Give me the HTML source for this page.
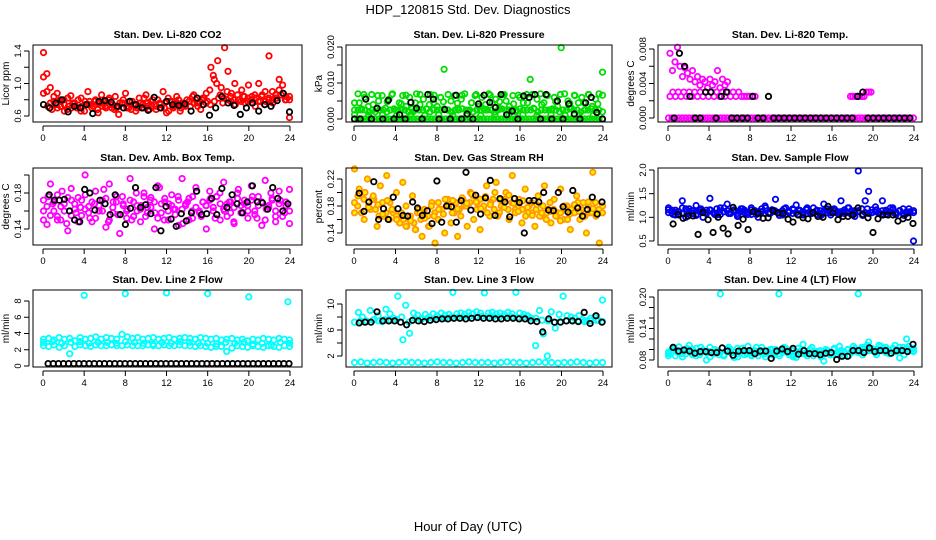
<!DOCTYPE html>
<html><head><meta charset="utf-8"><style>
html,body{margin:0;padding:0;background:#fff;}
svg{display:block;font-family:"Liberation Sans",sans-serif;}
</style></head><body>
<svg id="chart" width="936" height="540" viewBox="0 0 936 540" xmlns="http://www.w3.org/2000/svg">
<text x="468" y="14" text-anchor="middle" font-size="13">HDP_120815  Std. Dev. Diagnostics</text>
<text x="468" y="531" text-anchor="middle" font-size="13">Hour of Day (UTC)</text>
</svg>
<script>
const xTicks=[0,4,8,12,16,20,24];
// Panel 1 CO2
const co2Red=[1.38,1.12,0.95,0.78,0.88,0.72,0.80,0.68,0.85,0.75,0.70,0.82,0.66,0.90,0.74,0.78,0.64,0.86,0.72,0.80,0.70,0.84,0.62,0.76,0.88,0.70,0.78,0.66,0.82,0.74,0.86,0.68,0.80,0.72,0.76,0.90,0.64,0.78,0.70,0.84,0.66,0.74,0.80,0.72,0.86,0.76,0.68,0.82,0.78,1.20,1.05,1.28,0.95,1.44,1.15,0.88,1.00,0.80,0.92,0.76,0.98,0.84,0.72,1.00,0.86,0.78,1.34,0.90,0.82,1.05,0.88,0.80,0.58];
const co2Red2=[1.08,0.90,0.76,0.84,0.70,0.78,0.74,0.82,0.70,0.76,0.80,0.72,0.78,0.74,0.70,0.80,0.76,0.72,0.78,0.82,0.74,0.70,0.76,0.80,0.72,0.78,0.74,0.70,0.76,0.82,0.72,0.78,0.74,0.80,0.70,0.76,0.82,0.78,0.74,0.80,0.76,0.72,0.78,0.84,0.80,0.76,0.82,0.88,0.92,1.10,1.00,0.86,0.82,0.90,0.84,0.80,0.86,0.78,0.84,0.82,0.80,0.86,0.78,0.84,0.90,0.82,0.80,0.86,0.92,0.98,0.84,0.80];
const co2Red3=[0.88,0.72,0.68,0.74,0.80,0.66,0.72,0.76,0.70,0.66,0.74,0.78,0.72,0.68,0.76,0.70,0.74,0.68,0.72,0.76,0.70,0.68,0.74,0.72,0.70,0.76,0.72,0.68,0.74,0.70,0.66,0.72,0.76,0.70,0.74,0.78,0.76,0.72,0.80,0.76,0.74,0.78,0.82,0.76,0.80,0.78,0.74,0.80,0.84,0.78,0.76,0.82,0.78,0.74,0.80,0.76,0.82,0.86,0.80,0.84];
const co2Black=[0.74,0.70,0.76,0.80,0.65,0.72,0.70,0.74,0.63,0.78,0.79,0.77,0.72,0.70,0.78,0.74,0.70,0.67,0.83,0.70,0.78,0.74,0.73,0.75,0.66,0.82,0.74,0.61,0.70,0.84,0.76,0.73,0.62,0.70,0.76,0.66,0.74,0.72,0.79,0.88,0.65];
// Panel 2 Pressure
const presGreen=[0.0045,0.007,0.0025,0.006,0.0035,0.0068,0.002,0.005,0.0065,0.003,0.0055,0.007,0.0025,0.0045,0.0065,0.0035,0.006,0.002,0.007,0.004,0.0055,0.0028,0.0068,0.0045,0.0035,0.006,0.0138,0.0025,0.005,0.0065,0.003,0.0055,0.007,0.0022,0.0045,0.0065,0.0035,0.006,0.0025,0.007,0.0045,0.0055,0.003,0.0068,0.005,0.0035,0.0065,0.0025,0.006,0.0045,0.0068,0.011,0.003,0.0055,0.007,0.0045,0.0065,0.0025,0.006,0.0035,0.0198,0.007,0.005,0.003,0.0065,0.0045,0.006,0.0025,0.0068,0.0035,0.0055,0.007,0.013];
const presGreen0=[0,0,0,0,0,0,0,0,0,0,0,0,0,0,0,0,0,0,0,0,0,0,0,0,0,0,0,0,0,0,0,0,0,0,0,0,0,0,0,0,0,0,0,0,0,0,0,0,0,0,0,0,0,0,0,0,0,0,0,0,0,0,0,0,0,0,0,0,0,0,0,0];
const presGreen2=[0.0025,0.0025,0.0028,0.0025,0.002,0.0025,0.0028,0.0025,0.0025,0.002,0.0025,0.0028,0.0025,0.0025,0.0025,0.002,0.0028,0.0025,0.0025,0.0025,0.0028,0.002,0.0025,0.0025,0.0025,0.0028,0.0025,0.002,0.0025,0.0025,0.0028,0.0025,0.0025,0.002,0.0025,0.0025,0.0028,0.0025,0.0025,0.002,0.0025,0.0028,0.0025,0.0025,0.0025,0.002,0.0028,0.0025,0.0025,0.0025,0.0028,0.002,0.0025,0.0025,0.0025,0.0028,0.0025,0.002,0.0025,0.0025,0.0028,0.0025,0.0025,0.002,0.0025,0.0025,0.0028,0.0025,0.0025,0.002];
const presGreen3=[0.0012,0.0045,0.0068,0.001,0.004,0.0065,0.0012,0.0048,0.0068,0.001,0.0042,0.0066,0.0012,0.0045,0.0068,0.001,0.004,0.0066,0.0012,0.0048,0.0068,0.001,0.0044,0.0066,0.0012,0.0045,0.0068,0.001,0.004,0.0066,0.0012,0.0048,0.0068,0.001,0.0042,0.0066,0.0012,0.0045,0.0068,0.001,0.004,0.0066,0.0012,0.0048,0.0068,0.001,0.0044,0.0066,0.0012,0.0045,0.0068,0.001,0.0042,0.0066];
const presBlack=[0,0,0.0055,0,0.003,0,0.0052,0,0.0012,0,0.0046,0.003,0,0.0068,0.0055,0,0.0026,0,0.0066,0,0.0014,0,0.0042,0.0066,0.0046,0.0032,0.0068,0.0012,0.0022,0,0.0064,0.006,0.0068,0,0.0068,0,0.005,0,0.0042,0.0014,0,0.0045,0.006,0.0018,0];
// Panel 3 Temp
const tempMag0=[0,0,0,0,0,0,0,0,0,0,0,0,0,0,0,0,0,0,0,0,0,0,0,0,0,0,0,0,0,0,0,0,0,0,0,0,0,0,0,0,0,0,0,0,0,0,0,0,0,0,0,0,0,0,0,0,0,0,0,0,0,0,0,0,0,0,0,0,0,0,0,0];
const tempMagHi=[0.0075,0.0055,0.0065,0.0082,0.006,0.0048,0.0058,0.0052,0.0045,0.0055,0.0042,0.0048,0.0038,0.0045,0.0042,0.0035,0.0045,0.0038,0.0042,0.0055,0.0035,0.0045,0.0038,0.0042];
const tempMagBand=[0.0025,0.003,0.0025,0.003,0.0025,0.003,0.0025,0.003,0.0025,0.003,0.0025,0.003,0.0025,0.003,0.0025,0.003,0.0025,0.003,0.0025,0.003,0.0025,0.003,0.0025,0.003,0.0025,0.003,0.0025,0.0025,0.0025,0.0025,0.0025,0.0025];
const tempMagLate=[0.0025,0.0025,0.0025,0.0025,0.0025,0.0025,0.0025,0.003,0.003,0.003];
const tempBlack=[0,0.0075,0.006,0.0025,0,0,0.003,0.003,0,0.0025,0.003,0,0,0,0,0.0025,0,0,0.0025,0,0,0,0,0,0,0,0,0,0,0,0,0,0,0,0,0.0025,0.003,0,0,0,0,0,0,0,0,0];
// Panel 4 Amb box
const ambMag=[0.172,0.145,0.190,0.160,0.178,0.150,0.168,0.138,0.185,0.162,0.175,0.155,0.200,0.165,0.148,0.182,0.160,0.172,0.142,0.190,0.158,0.176,0.135,0.166,0.152,0.196,0.170,0.160,0.148,0.180,0.164,0.175,0.140,0.188,0.158,0.170,0.150,0.178,0.162,0.144,0.196,0.166,0.174,0.152,0.186,0.160,0.170,0.140,0.182,0.164,0.176,0.150,0.192,0.168,0.158,0.146,0.180,0.166,0.172,0.152,0.188,0.160,0.176,0.144,0.194,0.166,0.174,0.154,0.182,0.160,0.170,0.146];
const ambMag2=[0.160,0.165,0.155,0.170,0.150,0.165,0.160,0.175,0.155,0.168,0.148,0.172,0.162,0.158,0.170,0.152,0.166,0.160,0.174,0.150,0.164,0.170,0.156,0.168,0.160,0.172,0.154,0.166,0.162,0.176,0.158,0.164,0.170,0.152,0.168,0.174,0.160,0.166,0.156,0.172,0.162,0.168,0.150,0.176,0.164,0.158,0.170,0.166,0.172,0.160,0.176,0.168,0.162,0.154,0.170,0.164,0.174,0.158,0.168,0.160,0.172,0.156,0.166,0.170,0.150,0.164,0.172,0.160,0.168,0.154,0.166,0.160];
const ambMag3=[0.150,0.176,0.168,0.154,0.182,0.146,0.172,0.158,0.164,0.178,0.152,0.168,0.160,0.184,0.148,0.170,0.156,0.176,0.162,0.150,0.180,0.166,0.154,0.172,0.158,0.186,0.150,0.168,0.162,0.176,0.146,0.170,0.160,0.182,0.154,0.166,0.174,0.152,0.180,0.160,0.170,0.148,0.184,0.158,0.166,0.176,0.152,0.170,0.162,0.180,0.148,0.172,0.158,0.184];
const ambBlack=[0.178,0.172,0.172,0.173,0.160,0.150,0.148,0.184,0.180,0.161,0.172,0.168,0.156,0.178,0.156,0.145,0.163,0.186,0.164,0.167,0.157,0.186,0.138,0.165,0.151,0.143,0.157,0.149,0.158,0.182,0.156,0.157,0.174,0.156,0.185,0.164,0.178,0.168,0.158,0.170,0.188,0.170,0.169,0.162,0.186,0.174,0.160,0.168];
// Panel 5 RH
const rhOr=[0.235,0.180,0.200,0.160,0.220,0.175,0.190,0.150,0.210,0.165,0.225,0.185,0.170,0.200,0.155,0.215,0.180,0.160,0.195,0.145,0.175,0.135,0.165,0.150,0.185,0.125,0.160,0.175,0.140,0.190,0.155,0.170,0.135,0.165,0.180,0.150,0.200,0.160,0.185,0.145,0.175,0.210,0.165,0.190,0.215,0.170,0.180,0.200,0.160,0.225,0.175,0.190,0.155,0.205,0.170,0.185,0.150,0.195,0.165,0.210,0.175,0.155,0.190,0.170,0.205,0.160,0.180,0.145,0.175,0.195,0.160,0.185,0.140,0.170,0.230,0.165,0.125,0.180];
const rhOr2=[0.185,0.195,0.170,0.200,0.180,0.190,0.175,0.165,0.185,0.170,0.160,0.175,0.165,0.155,0.160,0.150,0.165,0.155,0.170,0.160,0.175,0.165,0.180,0.170,0.185,0.175,0.190,0.180,0.170,0.185,0.175,0.190,0.180,0.185,0.195,0.175,0.190,0.180,0.170,0.185,0.175,0.165,0.180,0.190,0.175,0.185,0.170,0.180,0.175,0.165,0.180,0.170,0.175,0.165,0.180,0.170,0.185,0.175,0.165,0.170,0.180,0.160,0.175,0.170,0.185,0.175,0.165,0.180,0.170,0.185,0.175,0.170];
const rhOr3=[0.170,0.205,0.190,0.178,0.195,0.182,0.168,0.188,0.175,0.160,0.170,0.150,0.158,0.145,0.170,0.162,0.150,0.165,0.175,0.168,0.180,0.188,0.176,0.192,0.184,0.198,0.186,0.176,0.194,0.182,0.200,0.190,0.178,0.196,0.184,0.172,0.188,0.178,0.166,0.182,0.170,0.160,0.172,0.165,0.158,0.176,0.168,0.182,0.172,0.164,0.186,0.176,0.168,0.180];
const rhBlack=[0.199,0.172,0.186,0.216,0.160,0.176,0.160,0.193,0.176,0.166,0.165,0.186,0.177,0.166,0.173,0.154,0.217,0.156,0.180,0.179,0.156,0.188,0.230,0.174,0.196,0.168,0.192,0.218,0.166,0.191,0.186,0.164,0.191,0.185,0.140,0.188,0.188,0.186,0.200,0.174,0.173,0.200,0.179,0.171,0.203,0.177,0.165,0.175,0.193,0.168,0.186];
// Panel 6 Sample flow
const flowBlue=[1.20,1.10,1.15,1.05,1.35,1.00,1.18,1.08,1.25,1.12,1.00,1.15,1.40,1.10,1.05,1.20,1.12,1.28,1.08,1.15,1.02,1.18,1.10,1.06,1.20,1.14,1.00,1.12,1.24,1.08,1.16,1.38,1.10,1.05,1.20,1.12,1.08,1.26,1.15,1.05,1.18,1.10,1.20,1.06,1.14,1.28,1.10,1.05,1.18,1.12,1.35,1.08,1.20,1.14,1.02,1.98,1.18,1.35,1.55,1.10,1.22,1.08,1.35,1.15,1.10,1.20,1.06,1.14,1.18,1.08,1.12,0.50];
const flowBlue2=[1.10,1.15,1.05,1.12,1.08,1.18,1.10,1.14,1.06,1.16,1.12,1.08,1.15,1.10,1.18,1.06,1.12,1.14,1.10,1.16,1.08,1.12,1.15,1.10,1.06,1.14,1.12,1.18,1.08,1.10,1.16,1.12,1.10,1.14,1.06,1.12,1.18,1.10,1.14,1.08,1.16,1.12,1.10,1.15,1.06,1.12,1.18,1.10,1.14,1.08,1.12,1.16,1.10,1.06,1.14,1.12,1.18,1.10,1.08,1.16,1.12,1.10,1.14,1.06,1.12,1.16,1.10,1.14,1.08,1.12,1.10,1.14];
const flowBlue3=[1.16,1.06,1.12,1.20,1.08,1.14,1.04,1.18,1.10,1.16,1.06,1.12,1.20,1.08,1.14,1.04,1.18,1.10,1.16,1.06,1.12,1.20,1.08,1.14,1.04,1.18,1.10,1.16,1.06,1.12,1.20,1.08,1.14,1.04,1.18,1.10,1.16,1.06,1.12,1.20,1.08,1.14,1.04,1.18,1.10,1.16,1.06,1.12,1.20,1.08,1.14,1.04,1.18,1.10];
const flowBlack=[0.86,1.06,0.98,1.03,1.03,0.64,1.10,0.95,0.68,1.00,0.77,0.65,1.21,0.83,0.96,0.74,1.12,1.08,0.98,0.99,1.14,1.09,1.08,0.96,0.90,1.05,0.99,0.97,1.10,1.02,1.00,1.23,1.10,0.95,1.02,1.02,1.05,1.20,1.06,0.99,0.68,0.97,1.05,1.05,1.05,0.92,0.97,1.00,0.87];
// Panel 7 Line 2 flow
const l2Hi=[3.3,3.4,3.2,3.5,3.3,3.4,3.1,3.5,3.3,3.4,3.6,3.3,3.5,3.4,3.3,3.9,3.6,3.4,3.5,3.3,3.4,3.5,3.3,3.4,3.5,3.3,3.4,3.5,3.4,3.3,3.5,3.4,3.3,3.4,3.2,3.3,3.4,3.2,3.3,3.1,3.3,3.2,3.4,3.3,3.2,3.4,3.3,3.2];
const l2Lo=[2.5,2.4,2.6,2.3,2.5,1.5,2.4,2.6,2.5,2.4,2.6,2.5,2.5,2.6,2.5,2.5,2.6,2.5,2.5,2.5,2.6,2.5,2.5,2.6,2.5,2.5,2.6,2.5,2.5,2.4,2.5,2.4,2.3,2.4,2.4,1.8,2.2,2.5,2.4,2.3,2.5,2.4,2.3,2.5,2.4,2.3,2.5,2.4];
const l2Mid=[2.9,3.0,2.8,2.9,3.0,2.8,2.9,2.9,2.8,3.0,2.9,2.8,2.7,2.9,2.8,3.0,2.9,2.8,2.8,2.7,2.9,2.8,2.9,2.7,2.8,2.6,2.9,2.8];
const l2Spike=[8.7,8.9,9.0,8.9,8.5,7.9];
const l2SpikeHr=[4,8,12,16,20,23.8];
const l2Black=[0.3,0.3,0.3,0.3,0.3,0.3,0.3,0.3,0.3,0.3,0.3,0.3,0.3,0.3,0.3,0.3,0.3,0.3,0.3,0.3,0.3,0.3,0.3,0.3,0.3,0.3,0.3,0.3,0.3,0.3,0.3,0.3,0.3,0.3,0.3,0.3,0.3,0.3,0.3,0.3,0.3,0.3,0.3,0.3,0.3,0.3,0.3,0.3];
// Panel 8 Line 3 flow
const l3Hi=[7.2,8.7,8.0,7.4,9.0,7.6,8.2,7.3,9.2,8.5,7.8,11.2,8.0,9.8,5.5,8.6,8.3,7.8,8.4,8.0,8.5,8.2,8.6,8.3,8.4,11.8,8.5,8.6,8.4,8.7,8.5,8.8,8.6,11.7,8.6,8.7,8.5,8.6,8.4,8.7,8.5,11.8,8.6,8.4,8.2,7.8,3.6,9.0,5.4,2.0,8.8,6.3,8.4,11.2,8.2,8.0,7.8,8.2,7.6,7.4,7.8,8.0,7.5,10.6];
const l3Mid=[7.2,7.4,7.3,7.5,7.4,7.6,7.5,7.6,4.5,7.2,7.8,7.6,7.8,7.7,7.9,7.8,8.0,7.9,8.0,8.1,8.0,8.1,8.0,8.1,8.0,8.1,8.0,7.9,8.0,7.9,7.8,7.5,7.4,7.2,7.3,7.4,7.5,7.4,7.3,7.4,7.5,7.3];
const l3Lo=[1.0,1.1,0.9,1.0,1.1,1.0,0.9,1.0,1.1,1.0,1.0,0.9,1.0,1.1,1.0,1.0,0.9,1.0,1.1,1.0,1.0,1.0,0.9,1.0,1.1,1.0,1.0,0.9,1.0,1.1,1.0,1.0,0.9,1.0,1.0,1.1,1.0,0.9,1.0,1.0];
const l3Black=[7.1,7.2,7.2,8.8,7.4,7.4,7.4,7.2,6.8,7.5,7.4,7.3,7.5,7.6,7.7,7.7,7.8,7.8,7.7,7.8,7.9,7.8,7.8,7.7,7.7,7.8,7.8,7.7,7.7,7.4,7.3,5.7,7.7,7.2,7.2,7.4,7.4,7.3,8.7,7.0,8.2,7.2];
// Panel 9 Line 4 flow
const l4Cy=[0.095,0.100,0.088,0.105,0.092,0.098,0.108,0.090,0.102,0.094,0.099,0.080,0.104,0.092,0.096,0.206,0.088,0.100,0.094,0.085,0.102,0.096,0.090,0.106,0.094,0.098,0.088,0.104,0.092,0.096,0.090,0.100,0.206,0.094,0.102,0.090,0.098,0.085,0.096,0.110,0.092,0.100,0.088,0.096,0.094,0.078,0.098,0.092,0.102,0.090,0.096,0.088,0.100,0.094,0.098,0.206,0.104,0.096,0.114,0.100,0.094,0.108,0.098,0.104,0.092,0.100,0.096,0.084,0.104,0.120,0.098,0.102];
const l4Cy2=[0.092,0.096,0.100,0.094,0.098,0.092,0.096,0.100,0.094,0.090,0.098,0.094,0.096,0.092,0.098,0.094,0.090,0.096,0.100,0.094,0.092,0.096,0.098,0.094,0.090,0.096,0.094,0.098,0.092,0.096,0.100,0.094,0.092,0.098,0.096,0.094,0.090,0.096,0.092,0.098,0.094,0.092,0.096,0.094,0.098,0.092,0.096,0.094,0.100,0.096,0.098,0.094,0.100,0.096,0.102,0.098,0.100,0.104,0.098,0.102,0.100,0.098,0.102,0.100,0.098,0.102,0.100,0.104,0.098,0.102,0.100,0.098];
const l4Cy3=[0.088,0.104,0.094,0.086,0.102,0.092,0.088,0.104,0.096,0.086,0.100,0.090,0.088,0.104,0.094,0.086,0.102,0.092,0.088,0.104,0.096,0.086,0.100,0.090,0.088,0.104,0.094,0.086,0.102,0.092,0.088,0.104,0.096,0.086,0.100,0.090,0.090,0.106,0.096,0.088,0.106,0.094,0.090,0.108,0.098,0.090,0.106,0.094,0.092,0.108,0.098,0.090,0.106,0.096];
const l4Black=[0.104,0.097,0.099,0.097,0.093,0.096,0.096,0.094,0.094,0.103,0.097,0.089,0.097,0.098,0.098,0.092,0.097,0.097,0.083,0.097,0.101,0.096,0.102,0.091,0.098,0.092,0.092,0.090,0.093,0.094,0.081,0.087,0.087,0.098,0.098,0.094,0.103,0.096,0.098,0.098,0.093,0.098,0.098,0.096,0.110];

const svg=document.getElementById('chart');
const NS='http://www.w3.org/2000/svg';
function mk(tag,attrs,parent){const e=document.createElementNS(NS,tag);for(const k in attrs)e.setAttribute(k,attrs[k]);(parent||svg).appendChild(e);return e;}

function panel(cfg){
  const g=mk('g',{});
  
  
  const xs=h=>cfg.x0+(h/24)*(cfg.x24-cfg.x0);
  const ys=v=>cfg.yA+(v-cfg.vA)*(cfg.yB-cfg.yA)/(cfg.vB-cfg.vA);
  const t=mk('text',{x:(cfg.bx0+cfg.bx1)/2,y:cfg.by0-7,'text-anchor':'middle','font-size':10.5,'font-weight':'bold'},g);
  t.textContent=cfg.title;
  
  
  const series=mk('g',{},g);
  
  
  cfg.series.forEach(s=>{
    const n=s.vals.length;
    s.vals.forEach((v,i)=>{
      const h=s.hours?s.hours[i]:(n>1?(s.start||0.05)+i*((s.end||23.95)-(s.start||0.05))/(n-1):12);
      const c=mk('circle',{cx:xs(h).toFixed(1),cy:ys(v).toFixed(1),r:2.7,fill:s.fill||'none',stroke:s.color,'stroke-width':1.8},series);
      
      
    });
  });
  const box=mk('rect',{x:cfg.bx0,y:cfg.by0,width:cfg.bx1-cfg.bx0,height:cfg.by1-cfg.by0,fill:'none',stroke:'#000','stroke-width':1},g);
  
  
  const xa=mk('g',{},g);
  
  
  mk('line',{x1:xs(0),x2:xs(24),y1:cfg.by1+4,y2:cfg.by1+4,stroke:'#000'},xa);
  xTicks.forEach(h=>{
    mk('line',{x1:xs(h),x2:xs(h),y1:cfg.by1+4,y2:cfg.by1+9,stroke:'#000'},xa);
    const l=mk('text',{x:xs(h),y:cfg.by1+19,'text-anchor':'middle','font-size':9.5},xa);
    l.textContent=h;
    
    
  });
  const ya=mk('g',{},g);
  
  
  const ax=cfg.bx0-4;
  mk('line',{x1:ax,x2:ax,y1:ys(cfg.ticks[0]),y2:ys(cfg.ticks[cfg.ticks.length-1]),stroke:'#000'},ya);
  cfg.ticks.forEach((v,i)=>{
    mk('line',{x1:ax-5,x2:ax,y1:ys(v),y2:ys(v),stroke:'#000'},ya);
    if(cfg.labels[i]){
      const y=ys(v);
      const l=mk('text',{x:ax-8,y:y,'text-anchor':'middle','font-size':9.5,transform:`rotate(-90 ${ax-8} ${y})`},ya);
      l.textContent=cfg.labels[i];
      
      
    }
  });
  const yt=(cfg.by0+cfg.by1)/2;
  const yl=mk('text',{x:cfg.bx0-24,y:yt,'text-anchor':'middle','font-size':10,transform:`rotate(-90 ${cfg.bx0-24} ${yt})`},g);
  yl.textContent=cfg.ylab;
  
  
}
const C1={bx0:33,bx1:302,x0:43,x24:290}, C2={bx0:346,bx1:612,x0:354,x24:603}, C3={bx0:658,bx1:922,x0:668,x24:914};
const R1={by0:45,by1:122}, R2={by0:168,by1:245}, R3={by0:290,by1:367};
panel({...C1,...R1,name:'panel-co2',title:'Stan. Dev. Li-820 CO2',ylab:'Licor ppm',vA:0.6,yA:116,vB:1.4,yB:51,ticks:[0.6,0.8,1.0,1.2,1.4],labels:['0.6','','1.0','','1.4'],
  series:[{vals:co2Red,color:'#ff0000'},{vals:co2Red2,color:'#ff0000'},{vals:co2Red3,color:'#ff0000'},{vals:co2Black,color:'#000'}]});
panel({...C2,...R1,name:'panel-pressure',title:'Stan. Dev. Li-820 Pressure',ylab:'kPa',vA:0,yA:119,vB:0.02,yB:47,ticks:[0,0.005,0.01,0.015,0.02],labels:['0.000','','0.010','','0.020'],
  series:[{vals:presGreen0,color:'#00dd00'},{vals:presGreen2,color:'#00dd00'},{vals:presGreen3,color:'#00dd00'},{vals:presGreen,color:'#00dd00'},{vals:presBlack,color:'#000'}]});
panel({...C3,...R1,name:'panel-temp',title:'Stan. Dev. Li-820 Temp.',ylab:'degrees C',vA:0,yA:118,vB:0.008,yB:49,ticks:[0,0.002,0.004,0.006,0.008],labels:['0.000','','0.004','','0.008'],
  series:[{vals:tempMag0,color:'#ff00ff'},{vals:tempMagHi,color:'#ff00ff',start:0.2,end:5.8},{vals:tempMagBand,color:'#ff00ff',start:0.2,end:8.5},{vals:tempMagLate,color:'#ff00ff',start:17.8,end:19.8},{vals:tempBlack,color:'#000',start:0.6,end:23.6}]});
panel({...C1,...R2,name:'panel-amb-box-temp',title:'Stan. Dev. Amb. Box Temp.',ylab:'degrees C',vA:0.14,yA:229,vB:0.18,yB:193,ticks:[0.14,0.16,0.18,0.20],labels:['0.14','','0.18',''],
  series:[{vals:ambMag,color:'#ff00ff'},{vals:ambMag2,color:'#ff00ff'},{vals:ambMag3,color:'#ff00ff'},{vals:ambBlack,color:'#000',start:0.6,end:23.8}]});
panel({...C2,...R2,name:'panel-gas-rh',title:'Stan. Dev. Gas Stream RH',ylab:'percent',vA:0.14,yA:233,vB:0.22,yB:179,ticks:[0.14,0.16,0.18,0.20,0.22],labels:['0.14','','0.18','','0.22'],
  series:[{vals:rhOr,color:'#ff9900',fill:'#ffee00'},{vals:rhOr2,color:'#ff9900',fill:'#ffee00'},{vals:rhOr3,color:'#ff9900',fill:'#ffee00'},{vals:rhBlack,color:'#000',start:0.5,end:23.9}]});
panel({...C3,...R2,name:'panel-sample-flow',title:'Stan. Dev. Sample Flow',ylab:'ml/min',vA:0.5,yA:241,vB:2.0,yB:170,ticks:[0.5,1.0,1.5,2.0],labels:['0.5','1.0','1.5','2.0'],
  series:[{vals:flowBlue2,color:'#0000ee'},{vals:flowBlue3,color:'#0000ee'},{vals:flowBlue,color:'#0000ee'},{vals:flowBlack,color:'#000',start:0.5,end:23.9}]});
panel({...C1,...R3,name:'panel-line2-flow',title:'Stan. Dev. Line 2 Flow',ylab:'ml/min',vA:0,yA:366,vB:8,yB:301,ticks:[0,2,4,6,8],labels:['0','2','4','6','8'],
  series:[{vals:l2Hi,color:'#00ffff'},{vals:l2Lo,color:'#00ffff'},{vals:l2Mid,color:'#00ffff'},{vals:l2Spike,hours:l2SpikeHr,color:'#00ffff'},{vals:l2Black,color:'#000',start:0.5,end:23.9}]});
panel({...C2,...R3,name:'panel-line3-flow',title:'Stan. Dev. Line 3 Flow',ylab:'ml/min',vA:2,yA:356,vB:10,yB:304,ticks:[2,4,6,8,10],labels:['2','','6','','10'],
  series:[{vals:l3Lo,color:'#00ffff'},{vals:l3Mid,color:'#00ffff'},{vals:l3Hi,color:'#00ffff'},{vals:l3Black,color:'#000',start:0.5,end:23.9}]});
panel({...C3,...R3,name:'panel-line4-flow',title:'Stan. Dev. Line 4 (LT) Flow',ylab:'ml/min',vA:0.08,yA:360,vB:0.20,yB:297,ticks:[0.08,0.10,0.12,0.14,0.16,0.18,0.20],labels:['0.08','','','0.14','','','0.20'],
  series:[{vals:l4Cy2,color:'#00ffff'},{vals:l4Cy3,color:'#00ffff'},{vals:l4Cy,color:'#00ffff'},{vals:l4Black,color:'#000',start:0.5,end:23.9}]});
</script>
</body></html>
